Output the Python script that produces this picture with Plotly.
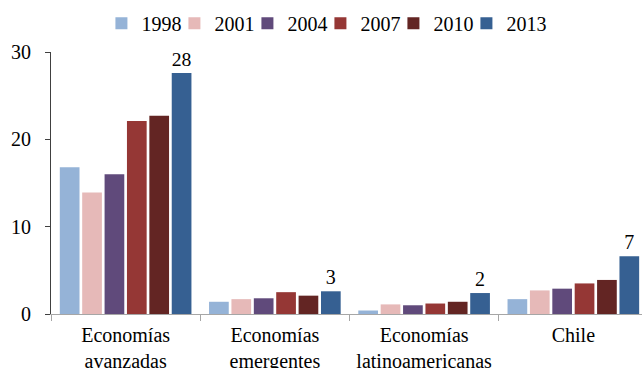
import plotly.graph_objects as go

categories = ["Economías<br>avanzadas", "Economías<br>emergentes",
              "Economías<br>latinoamericanas", "Chile"]
years = ["1998", "2001", "2004", "2007", "2010", "2013"]
v1998 = [16.8, 1.4, 0.4, 1.7]
v2001 = [13.9, 1.7, 1.1, 2.7]
v2004 = [16.0, 1.8, 1.0, 2.9]
v2007 = [22.1, 2.5, 1.2, 3.5]
v2010 = [22.7, 2.1, 1.4, 3.9]
v2013 = [27.6, 2.6, 2.4, 6.6]
series = [v1998, v2001, v2004, v2007, v2010, v2013]
colors = ["#95B3D7", "#E6B9B8", "#604A7B", "#953735", "#632523", "#366092"]
y_ticks = [0, 10, 20, 30]

FONT = "Liberation Serif"

fig = go.Figure()
for name, vals, col in zip(years, series, colors):
    is_last = name == years[-1]
    fig.add_trace(go.Bar(
        x=categories, y=vals, name=name,
        marker=dict(color=col, line=dict(width=0)),
        text=[f"{v:.0f}" for v in vals] if is_last else None,
        textposition="outside" if is_last else "none",
        textfont=dict(family=FONT, size=20, color="#000000"),
        cliponaxis=False,
        legendwidth=42 if is_last else None,
    ))

fig.update_layout(
    width=642, height=368,
    margin=dict(l=51, r=0, t=52, b=54, autoexpand=False),
    paper_bgcolor="white", plot_bgcolor="white",
    barmode="group", bargap=0.1, bargroupgap=0.12,
    font=dict(family=FONT, size=20, color="#000000"),
    showlegend=True,
    legend=dict(orientation="h", xref="container", yref="container",
                x=0.51, xanchor="center", y=0.99, yanchor="top",
                font=dict(family=FONT, size=20, color="#000000"),
                traceorder="normal", entrywidth=28, entrywidthmode="pixels",
                bgcolor="rgba(0,0,0,0)"),
    xaxis=dict(type="category", range=[-0.5, 3.46],
               showline=True, linecolor="#A6A6A6", linewidth=1,
               ticks="outside", tickson="boundaries", ticklen=6,
               tickcolor="#A6A6A6", showgrid=False, zeroline=False,
               ticklabelstandoff=3,
               tickfont=dict(family=FONT, size=20, color="#000000")),
    yaxis=dict(range=[0, 30], tickvals=y_ticks,
               showline=True, linecolor="#404040", linewidth=1,
               ticks="outside", ticklen=5, tickcolor="#404040",
               showgrid=False, zeroline=False, ticklabelstandoff=10,
               tickfont=dict(family=FONT, size=20, color="#000000")),
)

fig.write_html("out.html")
